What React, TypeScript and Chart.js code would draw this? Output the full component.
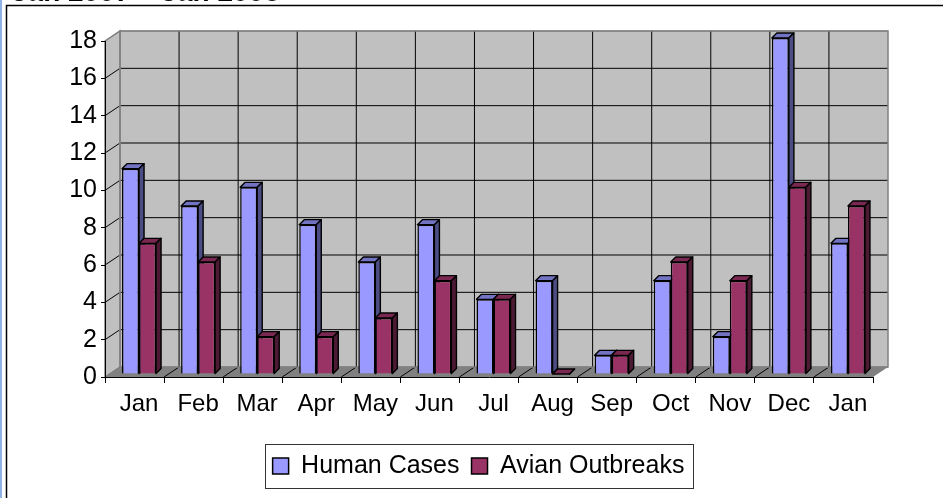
import React, { useEffect, useRef } from "react";
import { Chart, registerables } from "chart.js";

Chart.register(...registerables);

const categories = ["Jan", "Feb", "Mar", "Apr", "May", "Jun", "Jul", "Aug", "Sep", "Oct", "Nov", "Dec", "Jan"];
const humanCases = [11, 9, 10, 8, 6, 8, 4, 5, 1, 5, 2, 18, 7];
const avianOutbreaks = [7, 6, 2, 2, 3, 5, 4, 0, 1, 6, 5, 10, 9];
const seriesNames = ["Human Cases", "Avian Outbreaks"];
const titleText = "Jan 2007 – Jan 2008";
const yMin = 0;
const yMax = 18;
const yStep = 2;

const FONT = "'Liberation Sans', Arial, sans-serif";
const WALL = { dx: 15, dy: -10 };
const BAR_SHIFT = { dx: 4.5, dy: -3 };
const BAR_DEPTH = { dx: 5, dy: -5 };
const LEGEND_CENTER_X = 478.5;

const faceColors: Record<number, { top: string; side: string }> = {
  0: { top: "#7373C4", side: "#4D4D85" },
  1: { top: "#7A2852", side: "#4D1A33" },
};

function poly(ctx: CanvasRenderingContext2D, pts: number[][]) {
  ctx.beginPath();
  ctx.moveTo(pts[0][0], pts[0][1]);
  for (let i = 1; i < pts.length; i++) ctx.lineTo(pts[i][0], pts[i][1]);
  ctx.closePath();
}

function drawFaces(chart: any, index: number) {
  const { ctx } = chart;
  const meta = chart.getDatasetMeta(index);
  const colors = faceColors[index];
  const { dx, dy } = BAR_DEPTH;
  ctx.save();
  ctx.strokeStyle = "#000";
  ctx.lineWidth = 1.4;
  ctx.lineJoin = "round";
  meta.data.forEach((bar: any) => {
    const { x, y, base, width } = bar.getProps(["x", "y", "base", "width"], true);
    const l = x - width / 2;
    const r = x + width / 2;
    poly(ctx, [[l, y], [l + dx, y + dy], [r + dx, y + dy], [r, y]]);
    ctx.fillStyle = colors.top;
    ctx.fill();
    ctx.stroke();
    poly(ctx, [[r, y], [r + dx, y + dy], [r + dx, base + dy], [r, base]]);
    ctx.fillStyle = colors.side;
    ctx.fill();
    ctx.stroke();
  });
  ctx.restore();
}

const threeD = {
  id: "threeD",
  afterLayout(chart: any) {
    const lg = chart.legend;
    if (!lg) return;
    const shift = LEGEND_CENTER_X - (lg.left + lg.right) / 2;
    lg.left += shift;
    lg.right += shift;
  },
  beforeDraw(chart: any) {
    const { ctx, chartArea: a, scales } = chart;
    const y = scales.y;
    const x = scales.x;
    const { dx, dy } = WALL;
    ctx.save();
    ctx.fillStyle = "#ffffff";
    ctx.fillRect(0, 0, chart.width, chart.height);
    // outer frame
    ctx.fillStyle = "#8DB3E2";
    ctx.fillRect(0, 0, 2, chart.height);
    ctx.strokeStyle = "#000";
    ctx.lineWidth = 1.5;
    ctx.beginPath();
    ctx.moveTo(6.5, chart.height);
    ctx.lineTo(6.5, 5.5);
    ctx.lineTo(chart.width, 5.5);
    ctx.stroke();

    // back wall
    ctx.fillStyle = "#C0C0C0";
    ctx.fillRect(a.left + dx, a.top + dy, a.right - a.left, a.bottom - a.top);
    // left wall
    poly(ctx, [[a.left, a.top], [a.left + dx, a.top + dy], [a.left + dx, a.bottom + dy], [a.left, a.bottom]]);
    ctx.fill();
    // floor
    ctx.fillStyle = "#808080";
    poly(ctx, [[a.left, a.bottom], [a.left + dx, a.bottom + dy], [a.right + dx, a.bottom + dy], [a.right, a.bottom]]);
    ctx.fill();

    ctx.lineWidth = 1;
    // horizontal grid
    y.ticks.forEach((t: any) => {
      const py = y.getPixelForValue(t.value);
      const edge = t.value === yMin || t.value === yMax;
      ctx.strokeStyle = edge ? "#808080" : "#000";
      ctx.beginPath();
      ctx.moveTo(a.left, py);
      ctx.lineTo(a.left + dx, py + dy);
      ctx.lineTo(a.right + dx, py + dy);
      ctx.stroke();
    });
    // vertical grid + floor lines
    ctx.strokeStyle = "#000";
    for (let i = 1; i < categories.length; i++) {
      const bx = (x.getPixelForValue(i - 1) + x.getPixelForValue(i)) / 2;
      ctx.beginPath();
      ctx.moveTo(bx + dx, a.top + dy);
      ctx.lineTo(bx + dx, a.bottom + dy);
      ctx.moveTo(bx, a.bottom);
      ctx.lineTo(bx + dx, a.bottom + dy);
      ctx.stroke();
    }
    // wall borders
    ctx.strokeStyle = "#808080";
    ctx.lineWidth = 1.5;
    ctx.strokeRect(a.left + dx, a.top + dy, a.right - a.left, a.bottom - a.top);
    poly(ctx, [[a.left, a.top], [a.left + dx, a.top + dy], [a.left + dx, a.bottom + dy], [a.left, a.bottom]]);
    ctx.stroke();
    ctx.restore();
  },
  beforeDatasetsDraw(chart: any) {
    chart.ctx.save();
    chart.ctx.translate(BAR_SHIFT.dx, BAR_SHIFT.dy);
  },
  beforeDatasetDraw(chart: any, args: any) {
    // Datasets are drawn last-to-first; draw the first series' 3D faces
    // before the second series so its front faces overlap them.
    if (args.index === 1) drawFaces(chart, 0);
  },
  afterDatasetDraw(chart: any, args: any) {
    if (args.index === 1) drawFaces(chart, 1);
  },
  afterDatasetsDraw(chart: any) {
    chart.ctx.restore();
  },
  afterDraw(chart: any) {
    const boxes = chart.legend && chart.legend.legendHitBoxes;
    if (!boxes || !boxes.length) return;
    let l = Infinity, r = -Infinity, t = Infinity, b = -Infinity;
    boxes.forEach((h: any) => {
      l = Math.min(l, h.left);
      r = Math.max(r, h.left + h.width);
      t = Math.min(t, h.top);
      b = Math.max(b, h.top + h.height);
    });
    const cy = (t + b) / 2;
    const { ctx } = chart;
    ctx.save();
    ctx.strokeStyle = "#333";
    ctx.lineWidth = 1;
    ctx.strokeRect(Math.round(l - 8) + 0.5, Math.round(cy - 22) + 0.5, Math.round(r - l + 16), 44);
    ctx.restore();
  },
};

export default function App() {
  const ref = useRef<HTMLCanvasElement | null>(null);
  useEffect(() => {
    if (!ref.current) return;
    const chart = new Chart(ref.current, {
      type: "bar",
      data: {
        labels: categories,
        datasets: [
          {
            label: seriesNames[0],
            data: humanCases,
            backgroundColor: "#9999FF",
            borderColor: "#000",
            borderWidth: 1.5,
            clip: false,
          },
          {
            label: seriesNames[1],
            data: avianOutbreaks,
            backgroundColor: "#993366",
            borderColor: "#000",
            borderWidth: 1.5,
            clip: false,
          },
        ] as any,
      },
      options: {
        animation: false,
        responsive: false,
        devicePixelRatio: 1,
        layout: { padding: { left: 12, right: 70, top: 0, bottom: 9.5 } },
        datasets: { bar: { categoryPercentage: 0.576, barPercentage: 1 } },
        scales: {
          x: {
            offset: true,
            grid: { offset: true, drawOnChartArea: false, tickLength: 6, color: "#000" },
            border: { color: "#000", width: 1 },
            ticks: { font: { family: FONT, size: 24 }, color: "#000", padding: 7, labelOffset: 4.5, maxRotation: 0, autoSkip: false },
            afterFit: (s: any) => { s.height = 64.5; },
          },
          y: {
            min: yMin,
            max: yMax,
            grid: { drawOnChartArea: false, tickLength: 4, color: "#000" },
            border: { color: "#000", width: 1 },
            ticks: { stepSize: yStep, font: { family: FONT, size: 25 }, color: "#000", padding: 4 },
            afterFit: (s: any) => { s.width = 93; },
          },
        },
        plugins: {
          tooltip: { enabled: false },
          title: {
            display: true,
            text: titleText,
            align: "start",
            color: "#000",
            font: { family: FONT, size: 28, weight: "bold" },
            padding: { top: -23.5, bottom: 30.9 },
          },
          legend: {
            position: "bottom",
            labels: {
              boxWidth: 16,
              boxHeight: 16,
              padding: 12,
              color: "#000",
              font: { family: FONT, size: 25 },
            },
          },
        },
      } as any,
      plugins: [threeD],
    });
    return () => chart.destroy();
  }, []);
  return (
    <div style={{ position: "fixed", left: 0, top: 0, width: 943, height: 498, background: "#fff" }}>
      <canvas ref={ref} width={943} height={498} style={{ width: 943, height: 498, display: "block" }} />
    </div>
  );
}
